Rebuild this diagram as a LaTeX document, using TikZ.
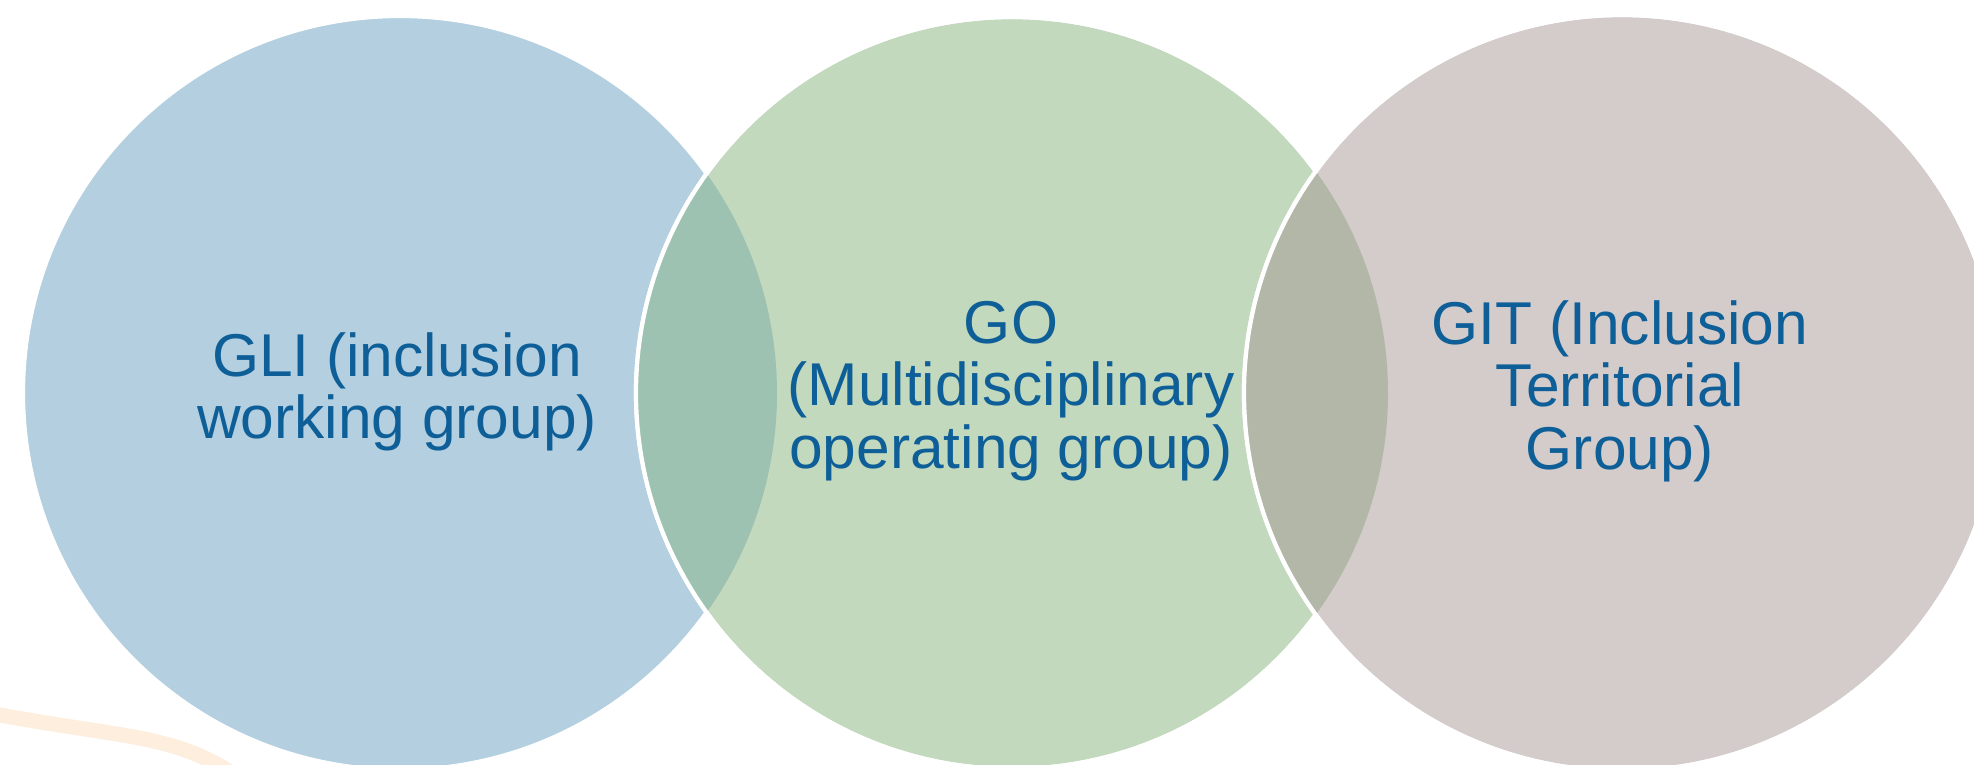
\documentclass[tikz,border=0pt]{standalone}
\usepackage{fontspec}
\setmainfont{Liberation Sans}
\usetikzlibrary{calc}

\definecolor{gliblue}{HTML}{B3CFE0}
\definecolor{gogreen}{HTML}{C3D9BE}
\definecolor{gitgrey}{HTML}{D3CCCB}
\definecolor{lensbg}{HTML}{9EC2B1}
\definecolor{lensgg}{HTML}{B3B7A8}
\definecolor{labelblue}{HTML}{0E5F98}
\definecolor{swoosh}{HTML}{FDEEDD}

\begin{document}
\begin{tikzpicture}[
	group/.style={circle,inner sep=0pt,draw=white,line width=1.2pt},
	grouptext/.style={align=center,text=labelblue,font=\fontsize{17.2pt}{17.8pt}\selectfont}]
	\useasboundingbox (0,0) rectangle (19.74,7.65);
	\draw[swoosh,line width=1.5mm,line cap=round] (0,0.50) .. controls (1.2,0.28) and (1.7,0.30) .. (2.27,-0.05);

	\draw (4.00,3.72) node (GLI) [group,fill=gliblue,minimum size=7.54cm] {};
	\draw (10.12,3.72) node (GO) [group,fill=gogreen,minimum size=7.52cm] {};
	\begin{scope}
		\clip (GLI.center) circle (3.77);
		\fill[lensbg] (GO.center) circle (3.76);
	\end{scope}
	\draw[white,line width=1.2pt] (GO.center) circle (3.76);

	\draw (16.22,3.72) node (GIT) [group,fill=gitgrey,minimum size=7.56cm] {};
	\begin{scope}
		\clip (GO.center) circle (3.76);
		\fill[lensgg] (GIT.center) circle (3.78);
	\end{scope}
	\draw[white,line width=1.2pt] (GIT.center) circle (3.78);

	\node (GLIlabel) [grouptext] at (3.97,3.73) {GLI (inclusion\\working group)};
	\node (GOlabel) [grouptext] at (10.11,3.74) {GO\\(Multidisciplinary\\operating group)};
	\node (GITlabel) [grouptext] at (16.20,3.74) {GIT (Inclusion\\Territorial\\Group)};
\end{tikzpicture}
\end{document}
